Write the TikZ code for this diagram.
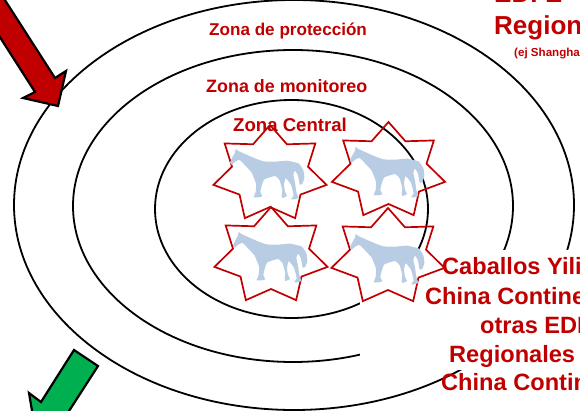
\documentclass[tikz,border=0pt]{standalone}
\usepackage{fontspec}
\setmainfont{Liberation Sans}
\definecolor{zonered}{HTML}{C00000}
\definecolor{zonegreen}{HTML}{00B050}
\definecolor{horseblue}{HTML}{B8CCE4}
\tikzset{
  ring/.style = {draw = black, line width = 1.8pt},
  starline/.style = {draw = zonered, line width = 1.7pt, line join = miter},
  bigarrow/.style = {draw = black, line width = 2.2pt, line join = miter},
  zonetext/.style = {text = zonered, font = \bfseries\fontsize{#1}{#1}\selectfont, inner sep = 0pt, anchor = base west}
}
\newcommand{\horseshape}{
  \fill[horseblue, xscale = 0.3333, yscale = 0.3333] plot[smooth cycle, tension = 0.25] coordinates {
    (15,62) (22,46) (30,32) (32,21) (40,27) (60,36) (85,47) (115,58) (150,59) (185,56)
    (205,60) (222,65) (235,85) (238,108) (232,125) (224,128) (219,100) (210,86) (205,98)
    (210,122) (214,150) (220,168) (207,172) (198,172) (206,160) (198,128) (182,108)
    (177,128) (180,150) (186,162) (172,168) (170,160) (172,145) (164,115) (150,102) (118,112) (110,132) (106,150) (112,163)
    (100,166) (86,166) (92,150) (93,125) (80,92) (62,72) (44,54) (32,58) (20,68)};
}
\begin{document}
\begin{tikzpicture}[x = 1pt, y = -1pt]
\clip (0,0) rectangle (580,411);
\fill[white] (0,0) rectangle (580,411);
\draw[ring] (294,205) ellipse [x radius = 280, y radius = 205];
\draw[ring] (293,206) ellipse [x radius = 220, y radius = 156];
\draw[ring] (291.5,209) ellipse [x radius = 136.5, y radius = 109];
\fill[white] (360,250) rectangle (580,370);
\foreach \sx/\sy/\hx/\hy in {270/174/225/142, 388.5/171/345/140, 271/256/228/225, 388/257/345/227}{
  \draw[starline] plot[samples at = {0,...,13}, variable = \k]
    ({\sx + (mod(\k,2) == 0 ? 58 : 39) * cos(90 + \k * 25.714)},
     {\sy - (mod(\k,2) == 0 ? 49 : 33) * sin(90 + \k * 25.714)}) -- cycle;
  \begin{scope}[shift = {(\hx,\hy)}]
    \horseshape
  \end{scope}
}
\node[zonetext = 17.1] (protect) at (209,36) {Zona de protección};
\node[zonetext = 17.9] (monitor) at (206,93) {Zona de monitoreo};
\node[zonetext = 18.6] (central) at (233,132) {Zona Central};
\node[zonetext = 26] (edfz) at (494,3) {EDFZ};
\node[zonetext = 26] (region) at (494,35) {Region};
\node[zonetext = 11.6] (shanghai) at (514,57) {(ej Shanghai};
\node[zonetext = 23.6] (yili1) at (442,275) {Caballos Yili};
\node[zonetext = 23.6] (yili2) at (425,304) {China Contine};
\node[zonetext = 23.6] (yili3) at (480,333) {otras EDI};
\node[zonetext = 23.6] (yili4) at (449,362) {Regionales};
\node[zonetext = 23.6] (yili5) at (441,390) {China Contin};
\draw[bigarrow, fill = zonered] (-8,-20) -- (55,78) -- (66,71) -- (58,106) -- (23,98) -- (35,92) -- (-20,6) -- cycle;
\draw[bigarrow, fill = zonegreen] (74,350) -- (98,366) -- (60,425) -- (72,433) -- (37,440) -- (29,393) -- (41,402) -- cycle;
\end{tikzpicture}
\end{document}
